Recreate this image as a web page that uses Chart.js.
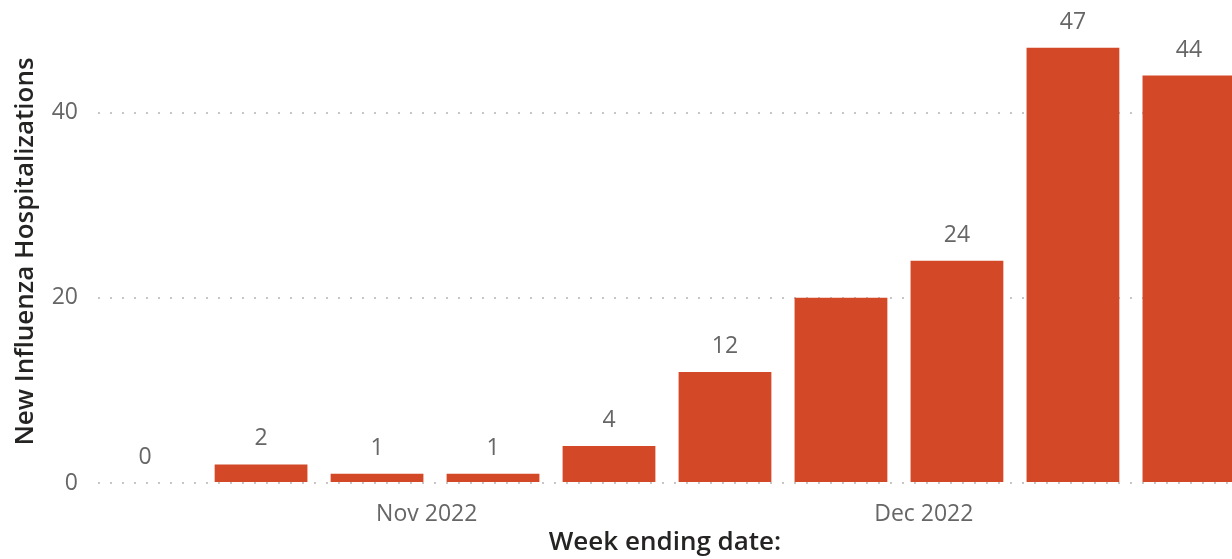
<!DOCTYPE html>
<html>
<head>
<meta charset="utf-8">
<script src="https://cdn.jsdelivr.net/npm/chart.js@4/dist/chart.umd.min.js"></script>
<style>
  html, body { margin: 0; padding: 0; background: #fff; }
  #wrap { width: 1232px; height: 559px; position: relative; }
</style>
</head>
<body>
<div id="wrap"><canvas id="fluChart"></canvas></div>
<script>
// week ending dates and new hospitalizations
var weekEnding = ['2022-10-15','2022-10-22','2022-10-29','2022-11-05','2022-11-12',
                  '2022-11-19','2022-11-26','2022-12-03','2022-12-10','2022-12-17'];
var hospitalizations = [0, 2, 1, 1, 4, 12, 20, 24, 47, 44];
// the label on the 20 bar is not shown in the original
var hiddenLabels = [6];
var tickDates = ['2022-11-01', '2022-12-01'];
var tickLabels = ['Nov 2022', 'Dec 2022'];
var yTicks = [0, 20, 40];

function toDay(s){
	return Date.UTC(+s.slice(0,4), +s.slice(5,7)-1, +s.slice(8,10)) / 86400000;
}

var points = [];
for(var i=0;i<weekEnding.length;i++){
	points.push({x: toDay(weekEnding[i]), y: hospitalizations[i]});
}
var firstDay = toDay(weekEnding[0]);
var lastDay = toDay(weekEnding[weekEnding.length-1]);

Chart.defaults.font.family = "'Open Sans', 'Noto Sans', sans-serif";

var barLabels = {
	id: 'barLabels',
	afterDatasetsDraw: function(chart){
		var ctx = chart.ctx;
		var meta = chart.getDatasetMeta(0);
		ctx.save();
		ctx.font = "23px 'Open Sans', 'Noto Sans', sans-serif";
		ctx.fillStyle = '#666666';
		ctx.textAlign = 'center';
		ctx.textBaseline = 'alphabetic';
		for(var i=0;i<meta.data.length;i++){
			if(hiddenLabels.indexOf(i) >= 0) continue;
			var bar = meta.data[i];
			ctx.fillText(String(hospitalizations[i]), bar.x, bar.y - 19);
		}
		ctx.restore();
	}
};

var ctx = document.getElementById('fluChart');
var fluChart = new Chart(ctx, {
	type: 'bar',
	data: {
		datasets: [{
			label: 'New Influenza Hospitalizations',
			data: points,
			backgroundColor: '#D34826',
			borderWidth: 0,
			categoryPercentage: 1,
			barPercentage: 0.8
		}]
	},
	options: {
		responsive: true,
		maintainAspectRatio: false,
		animation: false,
		devicePixelRatio: 1,
		layout: { padding: { top: 20, right: 0, bottom: 0, left: 0 } },
		plugins: {
			legend: { display: false },
			tooltip: { enabled: false }
		},
		scales: {
			x: {
				type: 'linear',
				offset: false,
				min: firstDay - 2.84,
				max: lastDay + 2.6,
				grid: { display: false },
				border: { display: false },
				afterBuildTicks: function(scale){
					scale.ticks = tickDates.map(function(d){ return {value: toDay(d)}; });
				},
				ticks: {
					padding: 10,
					color: '#666666',
					font: { size: 23 },
					maxRotation: 0,
					callback: function(value){
						for(var i=0;i<tickDates.length;i++){
							if(toDay(tickDates[i]) === value) return tickLabels[i];
						}
						return '';
					}
				},
				title: {
					display: true,
					text: 'Week ending date:',
					color: '#252423',
					font: { size: 26, weight: '600' },
					padding: { top: 0, bottom: 1 }
				},
				afterFit: function(scale){
					scale.height = 76;
					scale.paddingLeft = 0;
					scale.paddingRight = 0;
				}
			},
			y: {
				min: 0,
				max: 50,
				afterBuildTicks: function(scale){
					scale.ticks = yTicks.map(function(v){ return {value: v}; });
				},
				grid: {
					color: '#C8C6C4',
					lineWidth: 2,
					drawTicks: false
				},
				border: { display: false, dash: [2, 10] },
				ticks: {
					padding: 20,
					color: '#666666',
					font: { size: 23 }
				},
				title: {
					display: true,
					text: 'New Influenza Hospitalizations',
					color: '#252423',
					font: { size: 26, weight: '600' },
					padding: { top: 10, bottom: 0 }
				},
				afterFit: function(scale){
					scale.width = 98;
					scale.paddingTop = 0;
					scale.paddingBottom = 0;
				}
			}
		}
	},
	plugins: [barLabels]
});
</script>
</body>
</html>
